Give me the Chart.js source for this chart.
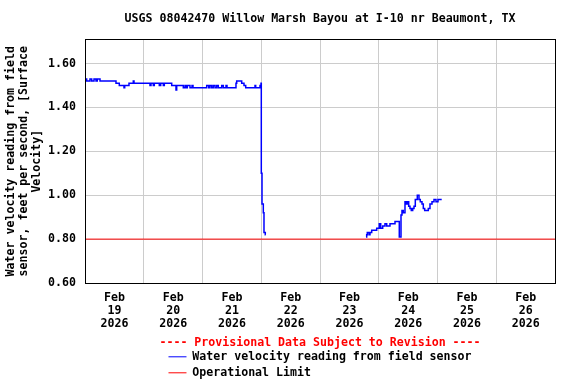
<!DOCTYPE html>
<html>
<head>
<meta charset="utf-8">
<title>USGS 08042470 Willow Marsh Bayou</title>
<script src="https://cdn.jsdelivr.net/npm/chart.js@4.4.1/dist/chart.umd.min.js"></script>
<style>
  html, body { margin: 0; padding: 0; background: #fff; }
</style>
</head>
<body>
<canvas id="velocityChart" width="576" height="384"></canvas>
<script>
// hours since Feb 19 2026 00:00, null marks the data gap
const velocityHours = [
  0, 0.69, 2.04, 2.74, 3.68, 4.49, 5.02, 6.13, 12.66, 14.01, 15.93, 16.22, 17.97, 19.73, 20.02,
  26.55, 26.96, 27.90, 28.31, 30.35, 30.93, 31.99, 32.40, 35.42, 37.17, 37.46, 40.16, 40.85, 41.26,
  41.79, 42.89, 43.71, 44.12, 49.72, 50.53, 51.06, 51.76, 52.41, 53.11, 53.80, 54.45, 55.84, 56.50,
  57.60, 58.01, 61.68, 61.97, 64.01, 64.95, 65.65, 69.45, 69.73, 71.49, 71.90, 72.02, 72.31, 72.84,
  73.12, 73.65, 73.80,
  90,
  114.79, 115.07, 115.32, 116.01, 116.42, 117.12, 119.16, 120.22, 120.80, 121.61, 122.55, 123.25,
  124.59, 126.64, 128.39, 129.09, 129.49, 130.03, 130.72, 131.13, 131.66, 132.23, 132.76, 133.29,
  133.87, 134.40, 134.93, 135.75, 136.44, 136.97, 137.67, 138.20, 138.77, 140.24, 140.93, 141.75,
  142.57, 143.38, 144.20, 145.72
];
const velocityValues = [
  1.53, 1.52, 1.53, 1.52, 1.53, 1.52, 1.53, 1.52, 1.51, 1.50, 1.49, 1.50, 1.51, 1.52, 1.51,
  1.50, 1.51, 1.50, 1.51, 1.50, 1.51, 1.50, 1.51, 1.50, 1.48, 1.50, 1.49, 1.50, 1.49,
  1.50, 1.49, 1.50, 1.49, 1.50, 1.49, 1.50, 1.49, 1.50, 1.49, 1.50, 1.49, 1.50, 1.49,
  1.50, 1.49, 1.51, 1.52, 1.51, 1.50, 1.49, 1.50, 1.49, 1.50, 1.51, 1.10, 0.96, 0.92,
  0.83, 0.82, 0.82,
  null,
  0.81, 0.82, 0.83, 0.82, 0.83, 0.84, 0.85, 0.87, 0.85, 0.86, 0.87, 0.86,
  0.87, 0.88, 0.81, 0.91, 0.93, 0.92, 0.97, 0.96, 0.97, 0.95, 0.94, 0.93,
  0.94, 0.95, 0.98, 1.00, 0.98, 0.97, 0.96, 0.94, 0.93, 0.94, 0.96, 0.97,
  0.98, 0.97, 0.98, 0.98
];
const limitHours = [0, 192];
const limitValues = [0.80, 0.80];
const dayLabels = ['19', '20', '21', '22', '23', '24', '25', '26'];
const yTickValues = [0.6, 0.8, 1.0, 1.2, 1.4, 1.6];

const FONT = "'DejaVu Sans Mono', monospace";
const SIZE = 11.6;
Chart.defaults.font.family = FONT;
Chart.defaults.font.size = SIZE;
Chart.defaults.font.weight = 'bold';
Chart.defaults.color = '#000';

// black box round the plot area
const frame = {
  id: 'frame',
  afterDatasetsDraw(chart) {
    const { ctx, chartArea: a } = chart;
    ctx.save();
    ctx.strokeStyle = '#000';
    ctx.lineWidth = 1;
    ctx.strokeRect(Math.floor(a.left) + 0.5, Math.floor(a.top) + 0.5,
      Math.round(a.right - a.left), Math.round(a.bottom - a.top));
    ctx.restore();
  }
};

const ctx = document.getElementById('velocityChart').getContext('2d');
new Chart(ctx, {
  type: 'line',
  data: {
    datasets: [{
      label: 'Water velocity reading from field sensor',
      data: velocityHours.map((h, i) => ({ x: h, y: velocityValues[i] })),
      borderColor: '#0000ff',
      backgroundColor: '#0000ff',
      borderWidth: 1.5,
      pointRadius: 0,
      stepped: true,
      spanGaps: false
    }, {
      label: 'Operational Limit',
      data: limitHours.map((h, i) => ({ x: h, y: limitValues[i] })),
      borderColor: '#ff0000',
      backgroundColor: '#ff0000',
      borderWidth: 1,
      pointRadius: 0
    }]
  },
  options: {
    responsive: false,
    animation: false,
    devicePixelRatio: 1,
    events: [],
    layout: { padding: { top: 6, left: 0, right: 21, bottom: -4.6 } },
    scales: {
      x: {
        type: 'linear',
        min: 0,
        max: 192,
        grid: { color: '#cccccc', drawTicks: false },
        border: { display: false },
        afterFit: scale => { scale.height = 48; },
        ticks: {
          stepSize: 24,
          autoSkip: false,
          maxRotation: 0,
          padding: 8,
          labelOffset: 29.4,
          font: { lineHeight: 1.15 },
          callback: (value, index) => index < dayLabels.length ? ['Feb', dayLabels[index], '2026'] : ''
        }
      },
      y: {
        min: 0.6,
        max: 1.71,
        grid: { color: '#cccccc', drawTicks: false },
        border: { display: false },
        afterBuildTicks: scale => { scale.ticks = yTickValues.map(v => ({ value: v })); },
        afterFit: scale => { scale.width = 85; },
        ticks: {
          padding: 9,
          callback: value => Number(value).toFixed(2)
        },
        title: {
          display: true,
          text: ['Water velocity reading from field', 'sensor, feet per second, [Surface', 'Velocity]'],
          font: { lineHeight: 1.12 },
          padding: { top: 4.6, bottom: 0 }
        }
      }
    },
    plugins: {
      title: {
        display: true,
        fullSize: false,
        text: 'USGS 08042470 Willow Marsh Bayou at I-10 nr Beaumont, TX',
        color: '#000',
        font: { size: SIZE, weight: 'bold' },
        padding: { top: 6, bottom: 13.5 }
      },
      legend: {
        position: 'bottom',
        fullSize: false,
        title: {
          display: true,
          text: '---- Provisional Data Subject to Revision ----',
          color: '#ff0000',
          font: { size: SIZE, weight: 'bold', lineHeight: 1 },
          padding: { top: 6, bottom: -2 }
        },
        labels: {
          usePointStyle: true,
          pointStyle: 'line',
          pointStyleWidth: 18,
          padding: 4.4,
          color: '#000',
          generateLabels: chart => {
            const items = Chart.defaults.plugins.legend.labels.generateLabels(chart);
            const longest = Math.max(...items.map(it => it.text.length));
            // same width for both rows so they line up on the left
            items.forEach(it => { it.text = it.text.padEnd(longest); it.lineWidth = 1; });
            return items;
          }
        }
      },
      tooltip: { enabled: false }
    }
  },
  plugins: [frame]
});
</script>
</body>
</html>
